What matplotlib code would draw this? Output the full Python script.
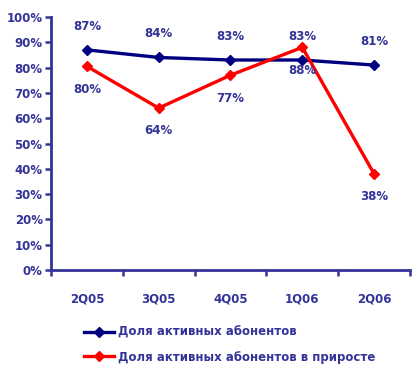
import numpy as np
import matplotlib
matplotlib.use('Agg')
import matplotlib.pyplot as plt
from matplotlib.ticker import FixedLocator, PercentFormatter

quarters = ['2Q05', '3Q05', '4Q05', '1Q06', '2Q06']
share_active = [87, 84, 83, 83, 81]
share_active_growth = [80.5, 64, 77, 88, 38]
labels_active = ['87%', '84%', '83%', '83%', '81%']
labels_growth = ['80%', '64%', '77%', '88%', '38%']

TEXT = '#333399'
NAVY = '#000080'
RED = '#ff0000'
FS = 8.5

fig = plt.figure(figsize=(4.19, 3.71), dpi=100, facecolor='white')
ax = fig.add_axes([0.1217, 0.2722, 0.8568, 0.682])

x = np.arange(len(quarters))
l1, = ax.plot(x, share_active, color=NAVY, lw=2.4, marker='D', ms=5.5,
              label='Доля активных абонентов')
l2, = ax.plot(x, share_active_growth, color=RED, lw=2.4, marker='D', ms=5.5,
              label='Доля активных абонентов в приросте')

for xi, v, s in zip(x, share_active, labels_active):
    ax.annotate(s, (xi, v), xytext=(0, 17), textcoords='offset points',
                ha='center', va='center', color=TEXT, fontsize=FS,
                fontweight='bold')
for xi, v, s in zip(x, share_active_growth, labels_growth):
    ax.annotate(s, (xi, v), xytext=(0, -16.5), textcoords='offset points',
                ha='center', va='center', color=TEXT, fontsize=FS,
                fontweight='bold')

ax.set_xlim(-0.5, len(quarters) - 0.5)
ax.set_ylim(0, 100)
ax.set_yticks(np.arange(0, 101, 10))
ax.yaxis.set_major_formatter(PercentFormatter(decimals=0))

# category boundaries get tick marks, centres get the labels
ax.xaxis.set_major_locator(FixedLocator(np.arange(-0.5, len(quarters), 1.0)))
ax.xaxis.set_minor_locator(FixedLocator(x))
ax.set_xticklabels([])
ax.set_xticklabels(quarters, minor=True)
ax.tick_params(axis='x', which='major', length=4, width=1.8, color=TEXT,
               direction='out')
ax.tick_params(axis='x', which='minor', length=0, pad=16, labelsize=FS,
               labelcolor=TEXT)
ax.tick_params(axis='y', length=4, width=1.8, color=TEXT, direction='out',
               labelsize=FS, labelcolor=TEXT, pad=2)
for lab in ax.get_xticklabels(minor=True) + ax.get_yticklabels():
    lab.set_fontweight('bold')

for side in ('top', 'right'):
    ax.spines[side].set_visible(False)
for side in ('left', 'bottom'):
    ax.spines[side].set_color(TEXT)
    ax.spines[side].set_linewidth(2)

leg = fig.legend(handles=[l1, l2], loc='upper left',
                 bbox_to_anchor=(0.2, 0.122), frameon=False,
                 fontsize=FS, handlelength=2.6, handletextpad=0.3,
                 labelspacing=1.0, borderaxespad=0, borderpad=0)
for t in leg.get_texts():
    t.set_color(TEXT)
    t.set_fontweight('bold')

fig.savefig('out.png', dpi=100, facecolor='white')
